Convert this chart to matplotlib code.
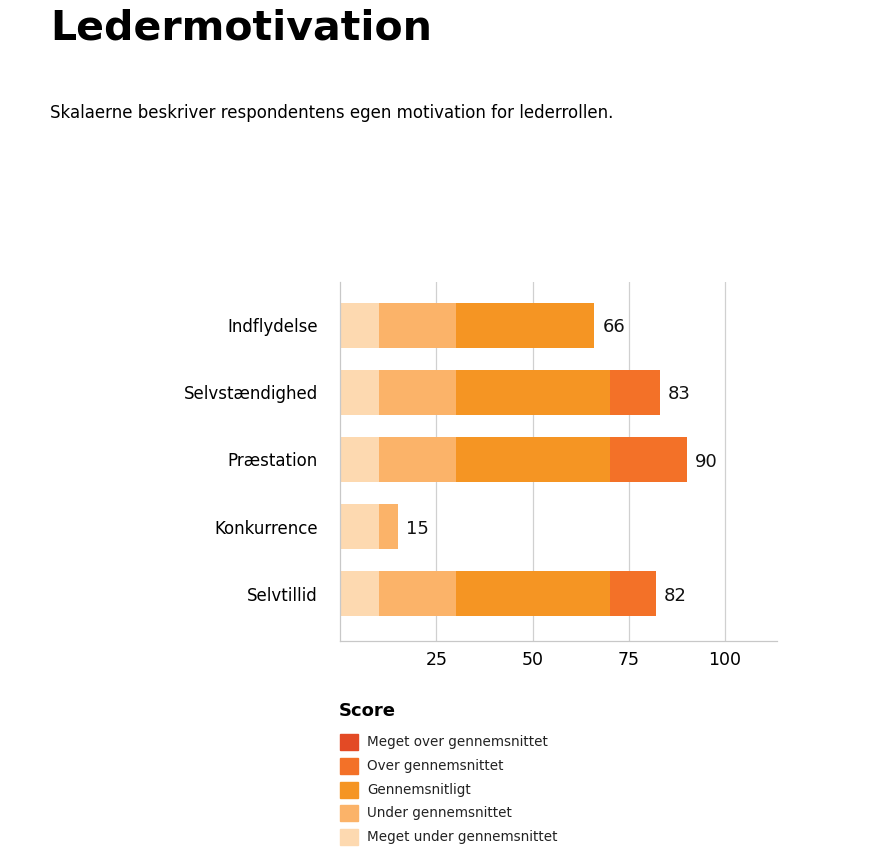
import matplotlib.pyplot as plt
from matplotlib.patches import Rectangle

# scale labels (top to bottom) and their scores
labels = ["Indflydelse", "Selvstændighed", "Præstation", "Konkurrence", "Selvtillid"]
scores = [66, 83, 90, 15, 82]

# score bands: upper bound, colour, legend text (low to high)
band_edges = [0, 10, 30, 70, 90, 100]
band_colors = ["#fdd9b0", "#fbb369", "#f59523", "#f37128", "#e34a25"]
band_names = ["Meget under gennemsnittet", "Under gennemsnittet", "Gennemsnitligt",
              "Over gennemsnittet", "Meget over gennemsnittet"]
xticks = [25, 50, 75, 100]

W, H = 871, 860
fig = plt.figure(figsize=(W / 100, H / 100), dpi=100)
ax = fig.add_axes([340 / W, 1 - 641 / H, (777 - 340) / W, (641 - 282) / H])

ypos = list(range(len(labels)))
for y, s in zip(ypos, scores):
    for i in range(len(band_colors)):
        lo, hi = band_edges[i], band_edges[i + 1]
        if s <= lo:
            break
        ax.barh(y, min(s, hi) - lo, left=lo, height=0.67, color=band_colors[i],
                edgecolor="none", zorder=2)
    ax.text(s + 2.2, y + 0.03, str(s), va="center", ha="left", fontsize=13, color="#111111")

ax.set_xlim(0, 113.5)
ax.set_ylim(len(labels) - 0.3, -0.64)
ax.set_yticks(ypos)
ax.set_yticklabels(labels, fontsize=12)
ax.set_xticks(xticks)
ax.set_xticklabels([str(t) for t in xticks], fontsize=12.5)
ax.tick_params(length=0, pad=7)
ax.tick_params(axis="y", pad=16)
ax.grid(axis="x", color="#d0d0d0", lw=0.9, zorder=0)
for side in ["top", "right"]:
    ax.spines[side].set_visible(False)
for side in ["left", "bottom"]:
    ax.spines[side].set_color("#c8c8c8")
    ax.spines[side].set_linewidth(0.9)

fig.text(50 / W, 1 - 9 / H, "Ledermotivation", fontsize=29.5, fontweight="bold",
         va="top", ha="left")
fig.text(50 / W, 1 - 113 / H, "Skalaerne beskriver respondentens egen motivation for lederrollen.",
         fontsize=12, va="center", ha="left")

# legend
fig.text(339 / W, 1 - 711 / H, "Score", fontsize=13, fontweight="bold", va="center")
row_y = [742, 766, 790, 813, 837]
for yy, c, name in zip(row_y, band_colors[::-1], band_names[::-1]):
    fig.patches.append(Rectangle((340 / W, 1 - (yy + 8) / H), 18 / W, 16 / H,
                                 transform=fig.transFigure, color=c))
    fig.text(367 / W, 1 - yy / H, name, fontsize=9.75, va="center", color="#222222")

fig.savefig("out.png", dpi=100)
